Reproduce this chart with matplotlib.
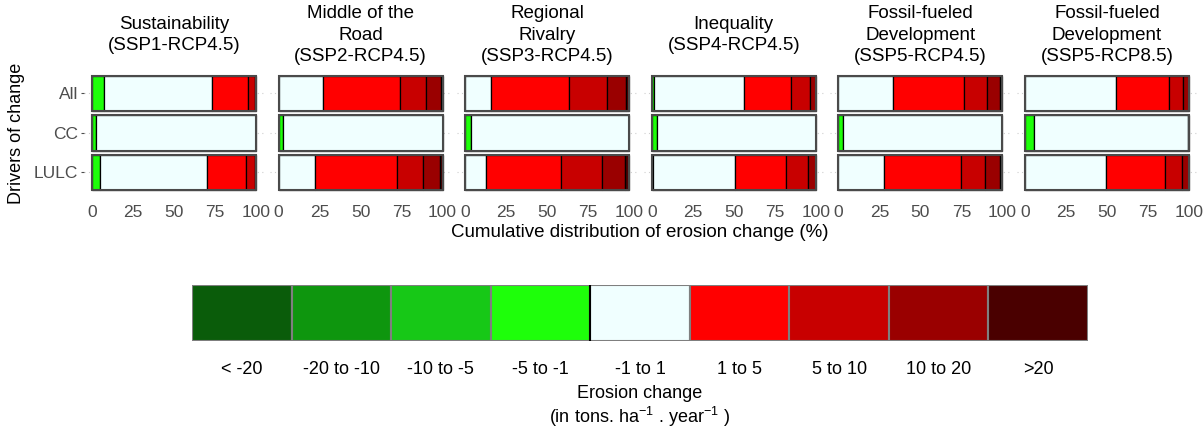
import matplotlib
matplotlib.use("Agg")
import matplotlib.pyplot as plt
from matplotlib import font_manager
from matplotlib.patches import Rectangle

# pick fonts (narrow face for the legend if it is installed)
installed = {f.name for f in font_manager.fontManager.ttflist}
BASE = "Liberation Sans"
NARROW = "Liberation Sans Narrow" if "Liberation Sans Narrow" in installed else BASE
plt.rcParams["font.family"] = [BASE, "DejaVu Sans"]
plt.rcParams["mathtext.fontset"] = "custom"
plt.rcParams["mathtext.rm"] = NARROW
plt.rcParams["mathtext.default"] = "regular"

# erosion change classes and their colours
classes = ["< -20", "-20 to -10", "-10 to -5", "-5 to -1", "-1 to 1",
           "1 to 5", "5 to 10", "10 to 20", ">20"]
class_colors = ["#0a5c0a", "#0e960e", "#17c817", "#1eff0a", "#f0ffff",
                "#ff0000", "#c80000", "#9a0000", "#4a0000"]

drivers = ["All", "CC", "LULC"]
scenario_titles = [
    "Sustainability\n(SSP1-RCP4.5)",
    "Middle of the\nRoad\n(SSP2-RCP4.5)",
    "Regional\nRivalry\n(SSP3-RCP4.5)",
    "Inequality\n(SSP4-RCP4.5)",
    "Fossil-fueled\nDevelopment\n(SSP5-RCP4.5)",
    "Fossil-fueled\nDevelopment\n(SSP5-RCP8.5)",
]

# share of area (%) in each class, same order as `classes`
ssp1_all = [0, 0, 0, 7.3, 65.7, 22.1, 4.3, 0.6, 0]
ssp1_cc = [0, 0, 0, 2.4, 97.6, 0, 0, 0, 0]
ssp1_lulc = [0, 0, 0, 4.7, 65.7, 23.6, 5.4, 0.6, 0]

ssp2_all = [0, 0, 0, 0, 26.8, 47.4, 15.4, 9.4, 1.0]
ssp2_cc = [0, 0, 0, 2.6, 97.4, 0, 0, 0, 0]
ssp2_lulc = [0, 0, 0, 0, 22.4, 49.6, 15.8, 10.6, 1.6]

ssp3_all = [0, 0, 0, 0, 15.7, 47.3, 23.2, 12.0, 1.8]
ssp3_cc = [0, 0, 0, 3.5, 96.5, 0, 0, 0, 0]
ssp3_lulc = [0, 0, 0, 0, 12.8, 45.7, 25.0, 14.1, 2.4]

ssp4_all = [0, 0, 0, 1.2, 54.8, 28.8, 11.6, 3.6, 0]
ssp4_cc = [0, 0, 0, 3.0, 97.0, 0, 0, 0, 0]
ssp4_lulc = [0, 0, 0, 0.5, 50.5, 31.0, 13.0, 5.0, 0]

ssp5_45_all = [0, 0, 0, 0, 33.0, 43.4, 14.2, 8.2, 1.2]
ssp5_45_cc = [0, 0, 0, 2.8, 97.2, 0, 0, 0, 0]
ssp5_45_lulc = [0, 0, 0, 0, 27.5, 47.0, 14.7, 9.6, 1.2]

ssp5_85_all = [0, 0, 0, 0.3, 55.4, 31.9, 8.6, 3.8, 0]
ssp5_85_cc = [0, 0, 0, 5.5, 93.7, 0.8, 0, 0, 0]
ssp5_85_lulc = [0, 0, 0, 0, 49.2, 36.1, 10.4, 4.3, 0]

scenarios = [
    [ssp1_all, ssp1_cc, ssp1_lulc],
    [ssp2_all, ssp2_cc, ssp2_lulc],
    [ssp3_all, ssp3_cc, ssp3_lulc],
    [ssp4_all, ssp4_cc, ssp4_lulc],
    [ssp5_45_all, ssp5_45_cc, ssp5_45_lulc],
    [ssp5_85_all, ssp5_85_cc, ssp5_85_lulc],
]

W, H = 1204, 433
fig = plt.figure(figsize=(W / 100, H / 100), dpi=100)
fig.patch.set_facecolor("white")


def px_rect(x, y, w, h):
    # pixel box (top-left origin) -> figure fraction
    return [x / W, 1 - (y + h) / H, w / W, h / H]


grey_txt = "#4d4d4d"

for i, (title, rows) in enumerate(zip(scenario_titles, scenarios)):
    x0 = 83.8 + i * 186.6
    ax = fig.add_axes(px_rect(x0, 69.6, 180.4, 126.6))
    for j, shares in enumerate(rows):
        left = 0
        for k, share in enumerate(shares):
            if share > 0:
                ax.barh(j, share, left=left, height=0.9, color=class_colors[k],
                        edgecolor="black", linewidth=0.9, zorder=2)
            left += share
        ax.add_patch(Rectangle((0, j - 0.45), left, 0.9, fill=False,
                               edgecolor="#4a4a4a", linewidth=1.5, zorder=3))

    ax.set_xlim(-5, 105)
    ax.set_ylim(2.6, -0.6)
    ax.set_xticks([0, 25, 50, 75, 100])
    ax.set_yticks(range(len(drivers)))
    ax.yaxis.grid(True, linestyle=(0, (1, 3)), color="#cfcfcf", linewidth=0.8, zorder=0)
    ax.xaxis.grid(False)
    ax.set_axisbelow(True)
    for sp in ax.spines.values():
        sp.set_visible(False)
    ax.tick_params(axis="x", length=0, pad=6, labelsize=12.5, labelcolor=grey_txt)
    if i == 0:
        ax.set_yticklabels(drivers)
        ax.tick_params(axis="y", length=2.5, width=0.8, color=grey_txt, pad=1.5,
                       labelsize=12.5, labelcolor=grey_txt)
    else:
        ax.tick_params(axis="y", length=0, labelleft=False)

    fig.text((x0 + 90.2) / W, 1 - 35 / H, title, ha="center", va="center",
             fontsize=13.5, linespacing=1.32, multialignment="center")

fig.text(17 / W, 1 - 133 / H, "Drivers of change", rotation=90,
         ha="center", va="center", fontsize=13)
fig.text(640 / W, 1 - 233 / H, "Cumulative distribution of erosion change (%)",
         ha="center", va="center", fontsize=13.5)

# colour key
lax = fig.add_axes(px_rect(192, 285, 896, 56))
for k, (lab, col) in enumerate(zip(classes, class_colors)):
    lax.bar(k + 0.5, 1, width=1, color=col, edgecolor="#7f7f7f", linewidth=1.5)
    lax.text(k + 0.5, (341 - 369) / 56, lab, transform=lax.get_xaxis_transform(),
             ha="center", va="center", fontsize=13, family=NARROW)
lax.axvline(4, color="black", linewidth=1.5)
lax.set_xlim(0, 9)
lax.set_ylim(0, 1)
lax.axis("off")
lax.text(0.5, (341 - 393) / 56, "Erosion change", transform=lax.transAxes,
         ha="center", va="center", fontsize=13, family=NARROW)
lax.text(0.5, (341 - 417) / 56, "(in tons. ha$^{-1}$ . year$^{-1}$ )",
         transform=lax.transAxes, ha="center", va="center", fontsize=13,
         family=NARROW)

fig.savefig("out.png", dpi=100)
